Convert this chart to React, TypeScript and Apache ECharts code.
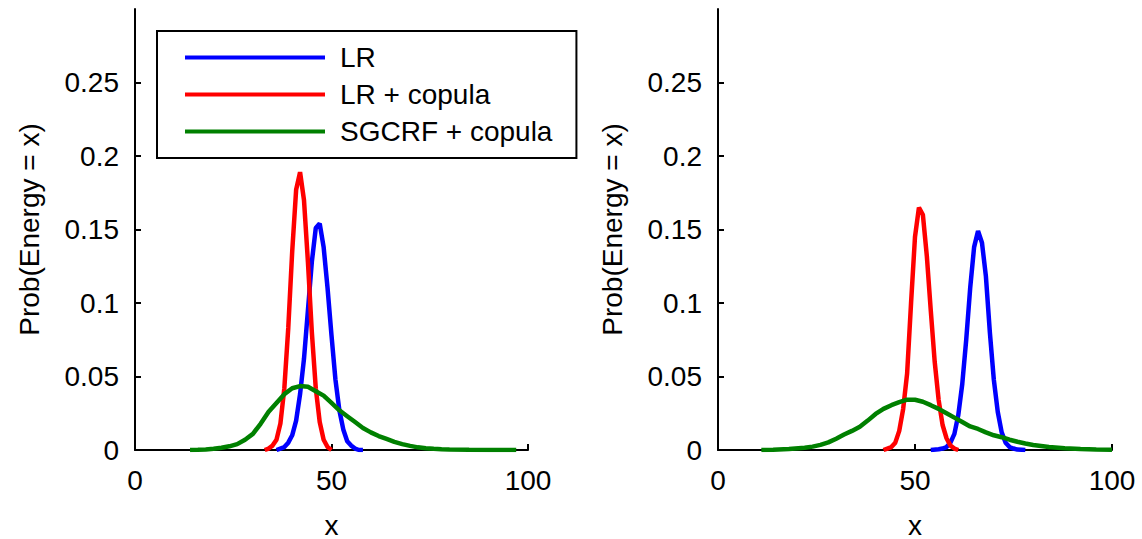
import React, { useEffect, useRef } from "react";
import * as echarts from "echarts";

const seriesNames = ["LR", "LR + copula", "SGCRF + copula"];
const seriesColors = ["#0000ff", "#ff0000", "#008000"];
const xTickValues = [0, 50, 100];
const yTickValues = [0, 0.05, 0.1, 0.15, 0.2, 0.25];
const xAxisTitle = "x";
const yAxisTitle = "Prob(Energy = x)";

// Left panel
const leftLRx = [36, 37, 38, 39, 40, 41, 42, 43, 44, 45, 46, 47, 48, 49, 50, 51, 52, 53, 54, 55, 56, 57, 58];
const leftLRy = [0, 0.001, 0.002, 0.005, 0.01, 0.02, 0.038, 0.062, 0.095, 0.128, 0.151, 0.154, 0.138, 0.11, 0.078, 0.048, 0.027, 0.014, 0.006, 0.003, 0.001, 0, 0];
const leftCopx = [33, 34, 35, 36, 37, 38, 39, 40, 41, 42, 43, 44, 45, 46, 47, 48, 49, 50];
const leftCopy = [0, 0.001, 0.003, 0.007, 0.018, 0.042, 0.083, 0.135, 0.177, 0.189, 0.17, 0.128, 0.08, 0.042, 0.019, 0.007, 0.002, 0];
const leftSgx = [14, 16, 18, 20, 22, 24, 26, 28, 30, 32, 34, 36, 38, 40, 42, 44, 46, 48, 50, 52, 54, 56, 58, 60, 62, 64, 66, 68, 70, 72, 74, 76, 78, 80, 85, 90, 97];
const leftSgy = [0, 0.0001, 0.0003, 0.0008, 0.0015, 0.0025, 0.004, 0.007, 0.011, 0.018, 0.026, 0.032, 0.038, 0.042, 0.0435, 0.043, 0.04, 0.037, 0.032, 0.027, 0.023, 0.019, 0.015, 0.012, 0.0095, 0.0075, 0.0055, 0.004, 0.0028, 0.0018, 0.0012, 0.0008, 0.0005, 0.0003, 0.0001, 0.00005, 0];

// Right panel
const rightLRx = [54, 56, 57, 58, 59, 60, 61, 62, 63, 64, 65, 66, 67, 68, 69, 70, 71, 72, 73, 74, 75, 76, 78];
const rightLRy = [0, 0.0005, 0.001, 0.002, 0.005, 0.011, 0.024, 0.045, 0.075, 0.11, 0.138, 0.149, 0.141, 0.118, 0.08, 0.048, 0.026, 0.012, 0.005, 0.002, 0.001, 0.0003, 0];
const rightCopx = [42, 43, 44, 45, 46, 47, 48, 49, 50, 51, 52, 53, 54, 55, 56, 57, 58, 59, 60, 61];
const rightCopy = [0, 0.001, 0.002, 0.005, 0.013, 0.028, 0.052, 0.1, 0.145, 0.165, 0.16, 0.132, 0.095, 0.06, 0.034, 0.017, 0.008, 0.003, 0.001, 0];
const rightSgx = [11, 14, 18, 22, 24, 26, 28, 30, 32, 34, 36, 38, 40, 42, 44, 46, 48, 50, 52, 54, 56, 58, 60, 62, 64, 66, 68, 70, 72, 74, 76, 78, 80, 84, 88, 92, 96, 100];
const rightSgy = [0, 0.0002, 0.0007, 0.0015, 0.0023, 0.0035, 0.0052, 0.0077, 0.0105, 0.013, 0.0158, 0.02, 0.0245, 0.028, 0.0305, 0.0325, 0.0342, 0.0342, 0.0328, 0.0305, 0.028, 0.025, 0.022, 0.019, 0.016, 0.0143, 0.012, 0.01, 0.0087, 0.007, 0.0056, 0.0044, 0.0034, 0.002, 0.0012, 0.0006, 0.0003, 0.0001];

const panels = [
  { xs: [leftLRx, leftCopx, leftSgx], ys: [leftLRy, leftCopy, leftSgy] },
  { xs: [rightLRx, rightCopx, rightSgx], ys: [rightLRy, rightCopy, rightSgy] },
];

const FONT = "Liberation Sans, Arial, sans-serif";
const FS = 28;

export default function App() {
  const ref = useRef<HTMLDivElement>(null);
  useEffect(() => {
    if (!ref.current) return;
    const chart = echarts.init(ref.current, null, { renderer: "svg" });
    const grids = [
      { left: 135, top: 9, width: 393, height: 441, containLabel: false, outerBoundsMode: "none" },
      { left: 718, top: 9, width: 394, height: 441, containLabel: false, outerBoundsMode: "none" },
    ];
    const axisLine = { show: true, lineStyle: { color: "#000", width: 2 } };
    const xAxes = grids.map((_, i) => ({
      type: "value",
      gridIndex: i,
      min: 0,
      max: 100,
      interval: 50,
      name: xAxisTitle,
      nameLocation: "middle",
      nameGap: 61,
      nameTextStyle: { color: "#000", fontSize: FS, fontFamily: FONT },
      axisLine,
      axisTick: { show: true, inside: true, length: 6, lineStyle: { color: "#000", width: 2 }, customValues: xTickValues },
      axisLabel: { color: "#000", fontSize: FS, fontFamily: FONT, margin: 16, customValues: xTickValues },
      splitLine: { show: false },
    }));
    const yAxes = grids.map((_, i) => ({
      type: "value",
      gridIndex: i,
      min: 0,
      max: 0.3,
      interval: 0.05,
      name: yAxisTitle,
      nameLocation: "middle",
      nameRotate: 90,
      nameGap: 92,
      nameTextStyle: { color: "#000", fontSize: FS, fontFamily: FONT },
      axisLine,
      axisTick: { show: true, inside: true, length: 6, lineStyle: { color: "#000", width: 2 }, customValues: yTickValues },
      axisLabel: { color: "#000", fontSize: FS, fontFamily: FONT, margin: 16, customValues: yTickValues },
      splitLine: { show: false },
    }));
    const series: any[] = [];
    panels.forEach((p, pi) => {
      p.xs.forEach((xs, si) => {
        series.push({
          type: "line",
          name: seriesNames[si],
          xAxisIndex: pi,
          yAxisIndex: pi,
          showSymbol: false,
          symbol: "none",
          data: xs.map((x, k) => [x, p.ys[si][k]]),
          lineStyle: { color: seriesColors[si], width: 4.5 },
          itemStyle: { color: seriesColors[si] },
          z: 3,
        });
      });
    });
    chart.setOption({
      animation: false,
      backgroundColor: "#fff",
      grid: grids,
      xAxis: xAxes,
      yAxis: yAxes,
      legend: {
        data: seriesNames,
        orient: "vertical",
        left: 157,
        top: 31,
        backgroundColor: "#fff",
        borderColor: "#000",
        borderWidth: 2,
        padding: [8, 24, 8, 28],
        itemGap: 0,
        itemWidth: 140,
        itemHeight: 4,
        icon: "rect",
        textStyle: { color: "#000", fontSize: FS, fontFamily: FONT, lineHeight: 37, padding: [0, 0, 0, 10] },
      },
      series,
    });
    return () => chart.dispose();
  }, []);
  return <div ref={ref} style={{ position: "fixed", left: 0, top: 0, width: 1142, height: 539 }} />;
}
